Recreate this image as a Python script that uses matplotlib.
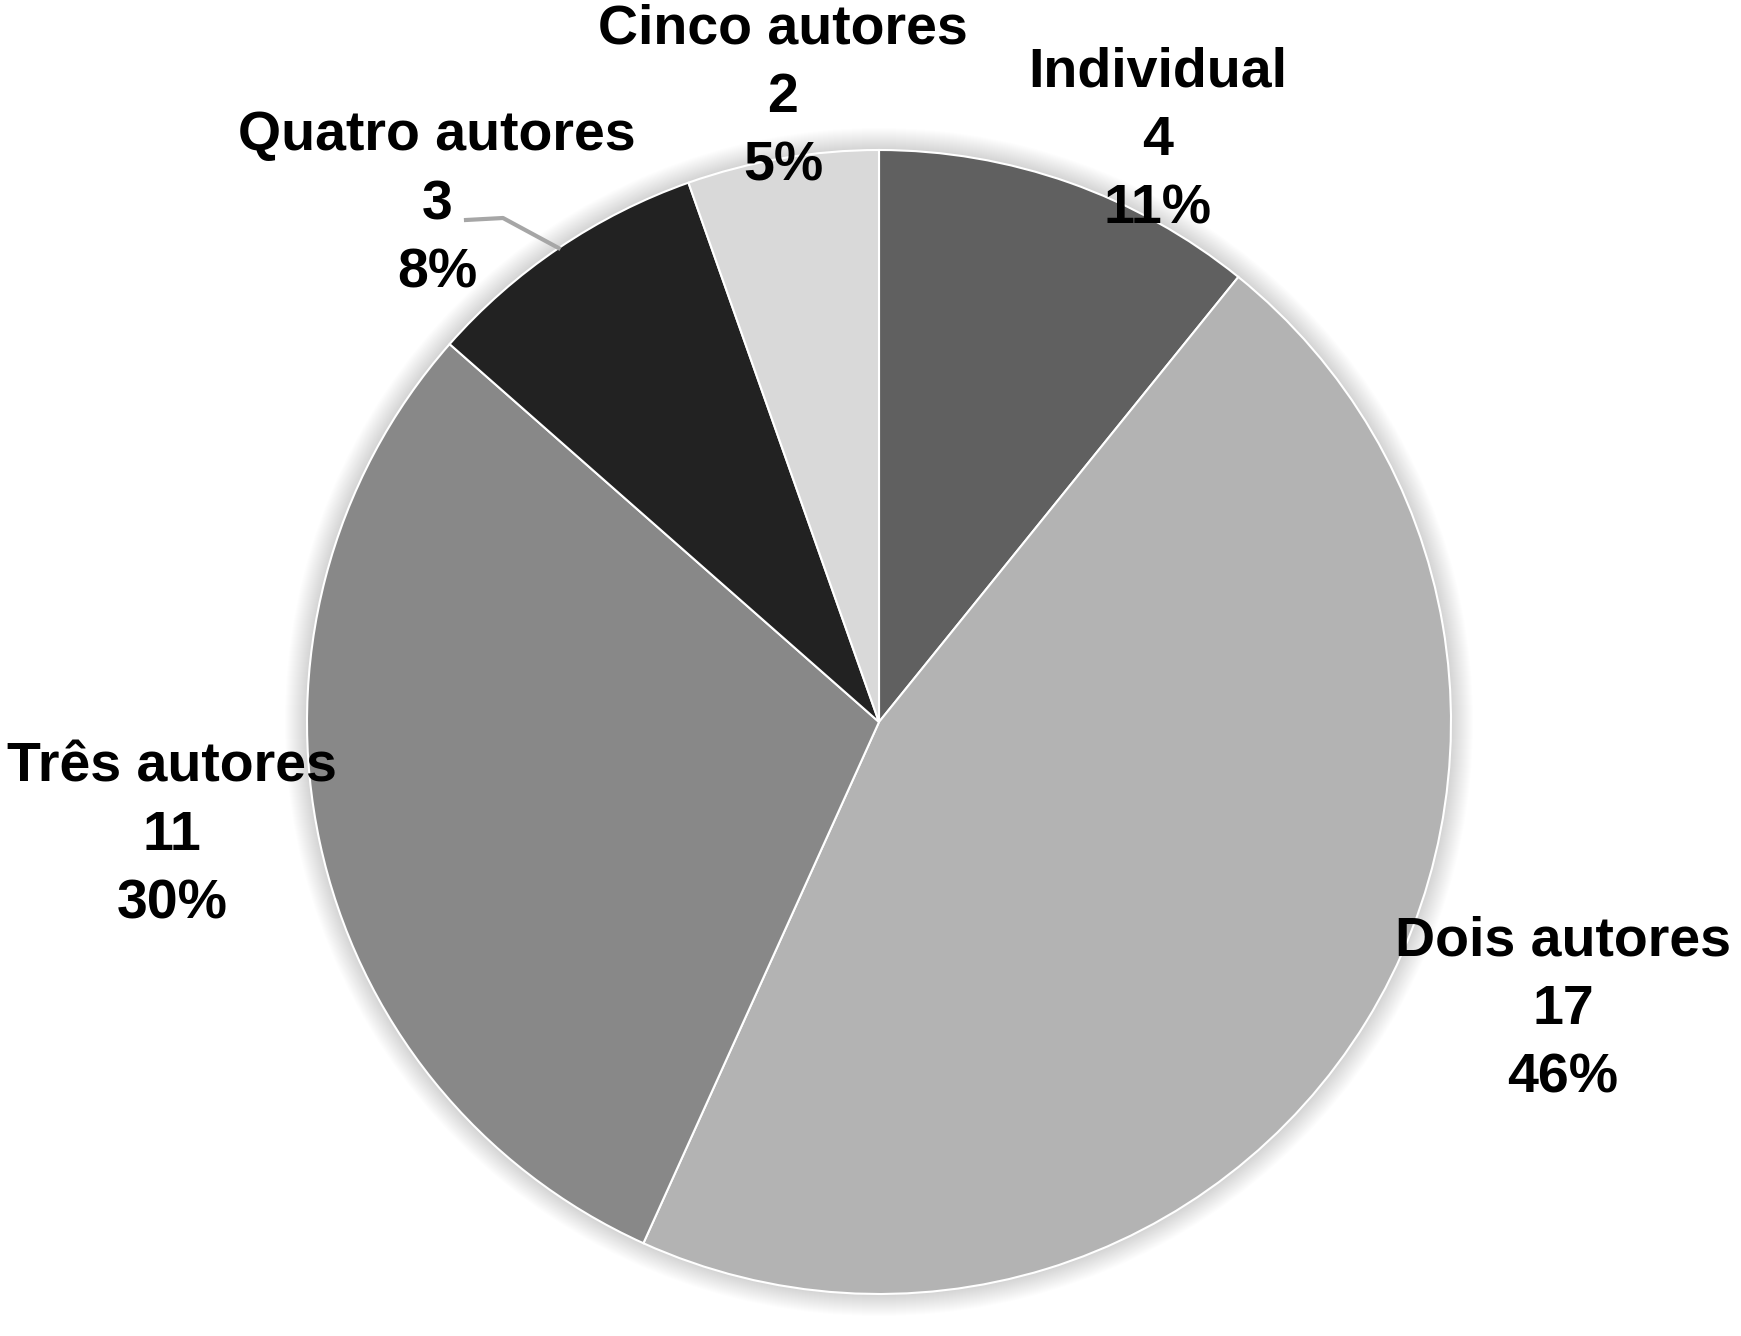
import numpy as np
import matplotlib.pyplot as plt
from matplotlib.patches import Circle

# data
categories = ['Individual', 'Dois autores', 'Três autores', 'Quatro autores', 'Cinco autores']
counts = [4, 17, 11, 3, 2]
percents = ['11%', '46%', '30%', '8%', '5%']
colors = ['#606060', '#b3b3b3', '#888888', '#222222', '#d9d9d9']

W, H = 1741, 1336
fig = plt.figure(figsize=(W / 100, H / 100), dpi=100)
ax = fig.add_axes([0, 0, 1, 1])

cx, cy, R = 879, H - 722, 572

# soft shadow round the pie
for k in range(22, 0, -1):
    ax.add_patch(Circle((cx, cy), R + k, color='black', alpha=0.009, lw=0, zorder=0))

wedges, _ = ax.pie(counts, colors=colors, startangle=90, counterclock=False,
                   center=(cx, cy), radius=R, frame=True,
                   wedgeprops=dict(edgecolor='white', linewidth=1.5))
ax.set_xlim(0, W)
ax.set_ylim(0, H)
ax.set_aspect('equal')
ax.axis('off')

# label positions (pixels from top-left)
label_pos = [(1158, 141), (1563, 1010), (172, 836), (437, 205), (783, 98)]
font = dict(family=['Liberation Sans', 'DejaVu Sans'], fontweight='bold', fontsize=40, color='black')
for name, n, p, (px, py) in zip(categories, counts, percents, label_pos):
    ax.text(px, H - py, f'{name}\n{n}\n{p}', ha='center', va='center',
            linespacing=1.42, **font)

# leader line for Quatro autores
w = wedges[3]
ang = np.deg2rad((w.theta1 + w.theta2) / 2)
ex, ey = cx + R * np.cos(ang), cy + R * np.sin(ang)
ax.plot([466, 503, ex], [H - 220, H - 218, ey], color='#a6a6a6', lw=3, zorder=3)

fig.savefig('out.png', dpi=100)
